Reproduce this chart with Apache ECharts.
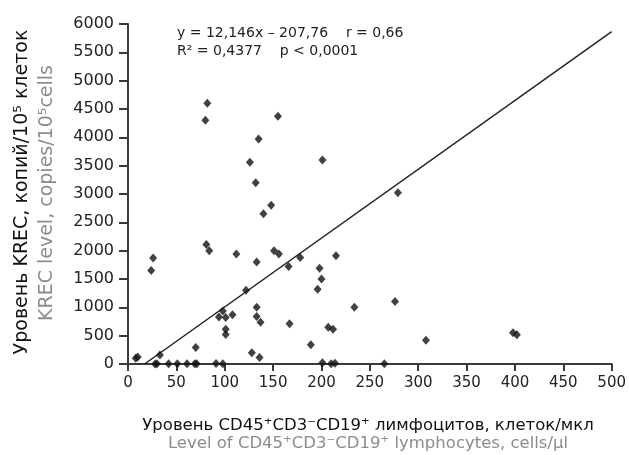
<!DOCTYPE html>
<html>
<head>
<meta charset="utf-8">
<script src="https://cdn.jsdelivr.net/npm/echarts@6/dist/echarts.min.js"></script>
<style>
  html, body { margin: 0; padding: 0; background: #fff; }
  #main { width: 629px; height: 455px; }
</style>
</head>
<body>
<div id="main"></div>
<script>
(function () {
    'use strict';

    // CD45+CD3-CD19+ lymphocytes, cells/ul
    var cd19 = [8, 10, 24, 26, 28, 30, 33, 42, 51, 61, 69, 71, 70, 80, 82, 81, 84, 91, 98,
        94, 98, 101, 101, 101, 108, 112, 122, 126, 128, 132, 133, 133, 133, 135, 136, 137,
        140, 148, 151, 155, 156, 166, 167, 178, 189, 196, 198, 200, 201, 201, 207, 210,
        212, 214, 215, 234, 265, 276, 279, 308, 398, 402];
    // KREC, copies/10^5 cells
    var krec = [100, 125, 1650, 1870, 0, 5, 160, 5, 5, 5, 5, 5, 290, 4300, 4600, 2110, 2000, 10, 5,
        830, 935, 820, 615, 520, 870, 1940, 1300, 3560, 200, 3200, 1800, 1000, 840, 3970, 115, 735,
        2650, 2800, 2000, 4370, 1940, 1720, 710, 1880, 340, 1320, 1690, 1500, 3600, 20, 650, 5,
        615, 15, 1910, 1000, 5, 1105, 3020, 420, 550, 515];

    var slope = 12.146;
    var intercept = -207.76;
    var xMax = 500;

    var points = [];
    for (var i = 0; i < cd19.length; i++) {
        points.push([cd19[i], krec[i]]);
    }
    // линия регрессии от y = 0 до правого края
    var fitLine = [[-intercept / slope, 0], [xMax, slope * xMax + intercept]];

    var chart = echarts.init(document.getElementById('main'));
    var axisColor = '#3a3a3a';
    var grayText = '#8c8c8c';
    var font = '"DejaVu Sans", sans-serif';

    var option = {
        backgroundColor: '#fff',
        animation: false,
        grid: { left: 128, right: 14, top: 24, bottom: 91 },
        xAxis: {
            type: 'value',
            min: 0,
            max: xMax,
            interval: 50,
            splitLine: { show: false },
            axisLine: { lineStyle: { color: axisColor, width: 2 } },
            axisTick: { length: 7, lineStyle: { color: axisColor, width: 2 } },
            axisLabel: {
                color: '#222', fontSize: 15, margin: 12,
                fontFamily: 'DejaVu Sans', showMaxLabel: true, showMinLabel: true
            }
        },
        yAxis: {
            type: 'value',
            min: 0,
            max: 6000,
            interval: 500,
            splitLine: { show: false },
            axisLine: { show: true, lineStyle: { color: axisColor, width: 2 } },
            axisTick: { show: true, length: 9, lineStyle: { color: axisColor, width: 2 } },
            axisLabel: {
                color: '#222', fontSize: 16, margin: 14, fontFamily: 'DejaVu Sans',
                formatter: function (v) { return String(v); }
            }
        },
        graphic: [
            {
                type: 'text', x: 177, y: 33,
                style: { text: 'y = 12,146x – 207,76    r = 0,66', font: '14px ' + font, fill: '#222', verticalAlign: 'middle' }
            },
            {
                type: 'text', x: 177, y: 51,
                style: { text: 'R² = 0,4377    p < 0,0001', font: '14px ' + font, fill: '#222', verticalAlign: 'middle' }
            },
            {
                type: 'text', x: 22, y: 192, rotation: Math.PI / 2,
                style: {
                    text: 'Уровень KREC, копий/10⁵ клеток', font: '19px ' + font,
                    fill: '#111', align: 'center', verticalAlign: 'middle'
                }
            },
            {
                type: 'text', x: 47, y: 193, rotation: Math.PI / 2,
                style: {
                    text: 'KREC level, copies/10⁵cells', font: '19px ' + font,
                    fill: grayText, align: 'center', verticalAlign: 'middle'
                }
            },
            {
                type: 'text', x: 368, y: 426,
                style: {
                    text: 'Уровень CD45⁺CD3⁻CD19⁺ лимфоцитов, клеток/мкл', font: '16.5px ' + font,
                    fill: '#111', align: 'center', verticalAlign: 'middle'
                }
            },
            {
                type: 'text', x: 368, y: 444,
                style: {
                    text: 'Level of CD45⁺CD3⁻CD19⁺ lymphocytes, cells/μl', font: '16.5px ' + font,
                    fill: grayText, align: 'center', verticalAlign: 'middle'
                }
            }
        ],
        series: [
            {
                type: 'line',
                data: fitLine,
                showSymbol: false,
                symbol: 'none',
                lineStyle: { color: '#222', width: 1.5 },
                z: 2
            },
            {
                type: 'scatter',
                data: points,
                symbol: 'diamond',
                symbolSize: [8, 9],
                itemStyle: { color: '#111' },
                z: 3
            }
        ]
    };
    chart.setOption(option);
}());
</script>
</body>
</html>
